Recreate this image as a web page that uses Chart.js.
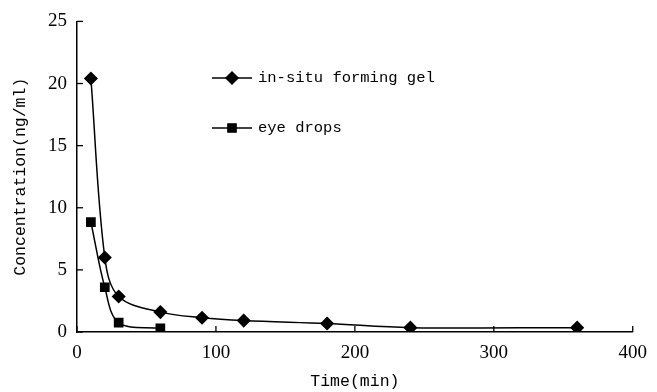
<!DOCTYPE html>
<html><head><meta charset="utf-8">
<script src="https://cdn.jsdelivr.net/npm/chart.js@4/dist/chart.umd.min.js"></script>
<style>html,body{margin:0;padding:0;background:#fff}#wrap{width:657px;height:392px}</style>
</head><body><div id="wrap"><canvas id="c" width="657" height="392"></canvas></div>
<script>
const gelTimes = [10, 20, 30, 60, 90, 120, 180, 240, 360];
const gelConc = [20.4, 6.0, 2.86, 1.6, 1.15, 0.92, 0.68, 0.35, 0.35];
const dropTimes = [10, 20, 30, 60];
const dropConc = [8.85, 3.6, 0.75, 0.3];
const seriesNames = ['in-situ forming gel', 'eye drops'];
const xTicks = [0, 100, 200, 300, 400];
const yTicks = [0, 5, 10, 15, 20, 25];

const toPts = (xs, ys) => xs.map((x, i) => ({x: x, y: ys[i]}));

const tickPlugin = {
  id: 'inTicks',
  afterDraw(chart) {
    const ctx = chart.ctx, xs = chart.scales.x, ys = chart.scales.y, a = chart.chartArea;
    ctx.save();
    ctx.strokeStyle = '#000'; ctx.lineWidth = 1.3;
    xTicks.forEach(v => { const p = xs.getPixelForValue(v); ctx.beginPath(); ctx.moveTo(p, a.bottom); ctx.lineTo(p, a.bottom - 6); ctx.stroke(); });
    yTicks.forEach(v => { const p = ys.getPixelForValue(v); ctx.beginPath(); ctx.moveTo(a.left, p); ctx.lineTo(a.left + 6, p); ctx.stroke(); });
    // legend
    const items = chart.data.datasets;
    const lx = 212, ly = [78, 128];
    items.forEach((ds, i) => {
      const y = ly[i];
      ctx.strokeStyle = '#000'; ctx.lineWidth = 1.5;
      ctx.beginPath(); ctx.moveTo(lx, y); ctx.lineTo(lx + 40, y); ctx.stroke();
      Chart.helpers.drawPoint(ctx, {pointStyle: ds.pointStyle, radius: ds.pointRadius, borderWidth: 1}, lx + 20, y);
      ctx.fillStyle = '#000';
      ctx.font = '15.5px "Liberation Mono"';
      ctx.textBaseline = 'middle';
      ctx.fillText(ds.label, lx + 46, y);
    });
    ctx.restore();
  }
};

new Chart(document.getElementById('c'), {
  type: 'scatter',
  data: {
    datasets: [
      {label: seriesNames[0], data: toPts(gelTimes, gelConc), showLine: true, borderColor: '#000', backgroundColor: '#000', borderWidth: 1.5, pointStyle: 'rectRot', pointRadius: 6, pointHoverRadius: 6, tension: 0.35},
      {label: seriesNames[1], data: toPts(dropTimes, dropConc), showLine: true, borderColor: '#000', backgroundColor: '#000', borderWidth: 1.5, pointStyle: 'rect', pointRadius: 5.8, pointHoverRadius: 5.8, tension: 0.35}
    ]
  },
  options: {
    responsive: false, animation: false, devicePixelRatio: 1,
    layout: {padding: {top: 19, right: 20, left: 11, bottom: 0}},
    plugins: {legend: {display: false}, tooltip: {enabled: false}},
    scales: {
      x: {
        type: 'linear', min: 0, max: 400,
        afterBuildTicks: s => { s.ticks = xTicks.map(v => ({value: v})); },
        afterFit: s => { s.height = 60; },
        grid: {display: false, drawTicks: false},
        border: {display: true, color: '#000', width: 1.5},
        ticks: {color: '#000', padding: 10, font: {family: '"Liberation Serif"', size: 19}},
        title: {display: true, text: 'Time(min)', color: '#000', padding: {top: 2, bottom: 0}, font: {family: '"Liberation Mono"', size: 16.5}}
      },
      y: {
        type: 'linear', min: 0, max: 25,
        afterBuildTicks: s => { s.ticks = yTicks.map(v => ({value: v})); },
        afterFit: s => { s.width = 66; },
        grid: {display: false, drawTicks: false},
        border: {display: true, color: '#000', width: 1.5},
        ticks: {color: '#000', padding: 10, font: {family: '"Liberation Serif"', size: 19}},
        title: {display: true, text: 'Concentration(ng/ml)', color: '#000', padding: {top: 0, bottom: 4}, font: {family: '"Liberation Mono"', size: 16.5}}
      }
    }
  },
  plugins: [tickPlugin]
});
</script></body></html>
